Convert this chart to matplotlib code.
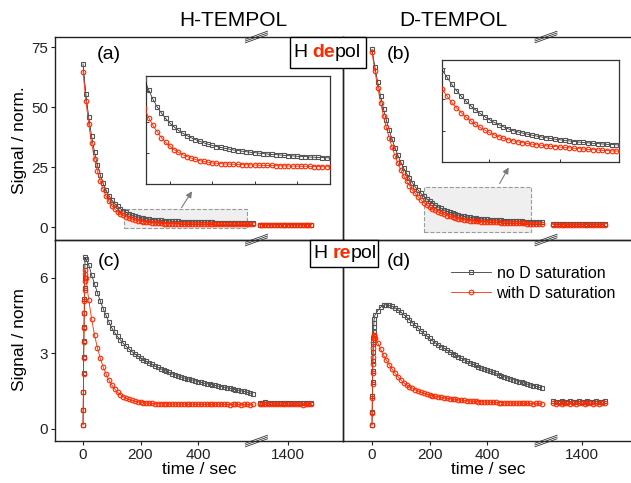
import matplotlib.pyplot as plt
from matplotlib.lines import Line2D
from matplotlib.patches import Rectangle
from matplotlib.text import Annotation

plt.rcParams['font.family'] = ['Liberation Sans', 'DejaVu Sans']

# ---- data ----
# depolarisation: time grid in s
t_dep = [0, 10, 20, 30, 40, 50, 60, 70, 80, 90, 100, 110, 120, 130, 140, 150, 160, 170, 180, 190,
         200, 210, 220, 230, 240, 250, 260, 270, 280, 290, 300, 310, 320, 330, 340, 350, 360, 370, 380, 390,
         400, 410, 420, 430, 440, 450, 460, 470, 480, 490, 500, 510, 520, 530, 540, 550, 560, 570, 580, 590]
t_tail = [1300, 1310, 1320, 1330, 1340, 1350, 1360, 1370, 1380, 1390,
          1400, 1410, 1420, 1430, 1440, 1450, 1460, 1470, 1480]
# repolarisation: dense points during the rise, then every 10 s
t_rep = [0, 0.6, 1.2, 1.8, 2.4, 3.0, 3.6, 4.2, 4.8, 5.4, 6.0, 6.6, 7.2,
         10, 20, 30, 40, 50, 60, 70, 80, 90, 100, 110, 120, 130, 140, 150, 160, 170, 180, 190,
         200, 210, 220, 230, 240, 250, 260, 270, 280, 290, 300, 310, 320, 330, 340, 350, 360, 370, 380, 390,
         400, 410, 420, 430, 440, 450, 460, 470, 480, 490, 500, 510, 520, 530, 540, 550, 560, 570, 580, 590]

# (a) H-TEMPOL, H depol
a_noD = [68.0, 55.5, 45.7, 37.8, 31.3, 26.0, 21.7, 18.2, 15.4, 13.1,
         11.3, 9.8, 8.6, 7.6, 6.8, 6.1, 5.5, 5.0, 4.6, 4.25,
         3.95, 3.7, 3.48, 3.3, 3.14, 3.0, 2.88, 2.77, 2.67, 2.58,
         2.5, 2.43, 2.37, 2.31, 2.26, 2.21, 2.17, 2.13, 2.09, 2.06,
         2.03, 2.0, 1.97, 1.94, 1.92, 1.9, 1.88, 1.86, 1.84, 1.82,
         1.8, 1.78, 1.77, 1.75, 1.74, 1.72, 1.71, 1.7, 1.69, 1.68]
a_D = [64.7, 52.5, 42.8, 34.9, 28.5, 23.3, 19.1, 15.7, 12.9, 10.7,
       8.9, 7.5, 6.4, 5.5, 4.9, 4.3, 3.8, 3.4, 3.0, 2.7,
       2.45, 2.23, 2.05, 1.9, 1.78, 1.68, 1.59, 1.52, 1.46, 1.41,
       1.36, 1.34, 1.32, 1.3, 1.29, 1.28, 1.27, 1.26, 1.25, 1.24,
       1.23, 1.22, 1.21, 1.2, 1.2, 1.19, 1.18, 1.18, 1.17, 1.16,
       1.16, 1.15, 1.15, 1.14, 1.13, 1.13, 1.12, 1.12, 1.11, 1.11]
a_noD_tail = [1.02, 1.04, 1.01, 1.03, 1.02, 1.0, 1.03, 1.02, 1.01, 1.03,
              1.02, 1.0, 1.01, 1.03, 1.02, 1.0, 1.01, 1.02, 1.01]
a_D_tail = [0.98, 0.97, 0.99, 0.98, 0.96, 0.98, 0.97, 0.99, 0.98, 0.97,
            0.96, 0.98, 0.97, 0.98, 0.99, 0.97, 0.98, 0.96, 0.98]

# (b) D-TEMPOL, H depol
b_noD = [74.0, 66.8, 60.3, 54.5, 49.2, 44.5, 40.3, 36.5, 33.0, 29.9,
         27.1, 24.6, 22.4, 20.3, 18.5, 16.8, 15.4, 14.0, 12.8, 11.7,
         10.8, 9.9, 9.1, 8.4, 7.76, 7.18, 6.67, 6.2, 5.78, 5.4,
         5.06, 4.76, 4.48, 4.23, 4.01, 3.85, 3.7, 3.56, 3.43, 3.31,
         3.2, 3.1, 3.0, 2.91, 2.83, 2.75, 2.68, 2.61, 2.55, 2.49,
         2.44, 2.39, 2.34, 2.3, 2.26, 2.22, 2.19, 2.16, 2.13, 2.1]
b_D = [72.8, 65.0, 58.1, 51.9, 46.4, 41.5, 37.1, 33.2, 29.7, 26.6,
       23.9, 21.4, 19.2, 17.3, 15.5, 14.0, 12.6, 11.3, 10.2, 9.26,
       8.39, 7.61, 6.91, 6.29, 5.74, 5.25, 4.81, 4.41, 4.06, 3.76,
       3.48, 3.23, 3.01, 2.84, 2.7, 2.58, 2.47, 2.37, 2.28, 2.2,
       2.13, 2.07, 2.01, 1.96, 1.9, 1.85, 1.8, 1.75, 1.7, 1.65,
       1.61, 1.57, 1.53, 1.49, 1.45, 1.42, 1.39, 1.36, 1.33, 1.3]
b_noD_tail = [1.1, 1.08, 1.11, 1.09, 1.1, 1.12, 1.08, 1.1, 1.09, 1.11,
              1.1, 1.08, 1.1, 1.11, 1.09, 1.1, 1.08, 1.1, 1.09]
b_D_tail = [1.02, 1.0, 1.03, 1.01, 1.02, 1.0, 1.01, 1.03, 1.02, 1.0,
            1.01, 1.02, 1.0, 1.03, 1.01, 1.02, 1.0, 1.01, 1.02]

# (c) H-TEMPOL, H repol
c_noD = [0.15, 0.75, 1.45, 2.2, 2.85, 3.5, 4.05, 4.6, 5.15, 5.6, 6.0, 6.45, 6.8,
         6.75, 6.5, 6.1, 5.75, 5.4, 5.07, 4.77, 4.5, 4.24, 4.0,
         3.82, 3.66, 3.52, 3.39, 3.27, 3.16, 3.06, 2.97, 2.89, 2.81,
         2.74, 2.67, 2.61, 2.55, 2.49, 2.43, 2.38, 2.33, 2.28, 2.23,
         2.18, 2.14, 2.1, 2.06, 2.02, 1.99, 1.96, 1.93, 1.9, 1.87,
         1.84, 1.81, 1.79, 1.76, 1.74, 1.72, 1.69, 1.67, 1.65, 1.62,
         1.6, 1.58, 1.55, 1.53, 1.5, 1.48, 1.45, 1.42, 1.38]
c_D = [0.15, 0.73, 1.44, 2.16, 2.82, 3.45, 4.0, 4.58, 5.08, 5.5, 5.87, 6.15, 6.3,
       6.0, 5.1, 4.35, 3.72, 3.21, 2.8, 2.45, 2.17, 1.93, 1.74,
       1.58, 1.45, 1.35, 1.27, 1.21, 1.16, 1.12, 1.09, 1.07, 1.05,
       1.03, 1.02, 1.01, 1.0, 0.99, 0.99, 0.98, 0.99, 0.98, 0.98,
       0.97, 0.98, 0.97, 0.97, 0.98, 0.97, 0.96, 0.97, 0.97, 0.96,
       0.97, 0.96, 0.97, 0.96, 0.96, 0.97, 0.96, 0.97, 0.96, 0.96,
       0.95, 0.96, 0.97, 0.96, 0.95, 0.96, 0.96, 0.95, 0.96]
c_noD_tail = [1.03, 1.02, 1.04, 1.01, 1.03, 1.02, 1.0, 1.03, 1.02, 1.01,
              1.03, 1.02, 1.0, 1.01, 1.02, 1.0, 1.01, 1.02, 1.0]
c_D_tail = [0.97, 0.98, 0.96, 0.97, 0.98, 0.96, 0.97, 0.97, 0.96, 0.98,
            0.97, 0.96, 0.97, 0.98, 0.96, 0.95, 0.97, 0.96, 0.96]

# (d) D-TEMPOL, H repol
d_noD = [0.15, 0.65, 1.3, 1.85, 2.3, 2.7, 3.05, 3.35, 3.6, 3.85, 4.05, 4.2, 4.34,
         4.5, 4.68, 4.82, 4.9, 4.92, 4.9, 4.86, 4.8, 4.72, 4.63,
         4.53, 4.43, 4.32, 4.21, 4.1, 3.99, 3.88, 3.78, 3.68, 3.58,
         3.49, 3.41, 3.33, 3.26, 3.2, 3.12, 3.05, 2.98, 2.92, 2.86,
         2.8, 2.74, 2.68, 2.62, 2.57, 2.51, 2.46, 2.41, 2.37, 2.33,
         2.28, 2.23, 2.19, 2.15, 2.1, 2.06, 2.02, 1.98, 1.95, 1.91,
         1.87, 1.84, 1.81, 1.77, 1.74, 1.71, 1.68, 1.65, 1.62]
d_D = [0.15, 0.61, 1.23, 1.76, 2.2, 2.55, 2.86, 3.19, 3.45, 3.6, 3.68, 3.72, 3.72,
       3.6, 3.41, 3.15, 2.92, 2.72, 2.53, 2.36, 2.2, 2.07, 1.93,
       1.83, 1.74, 1.67, 1.61, 1.55, 1.5, 1.45, 1.41, 1.37, 1.34,
       1.31, 1.28, 1.26, 1.24, 1.22, 1.2, 1.19, 1.17, 1.16, 1.14,
       1.13, 1.12, 1.11, 1.1, 1.09, 1.08, 1.07, 1.07, 1.06, 1.05,
       1.05, 1.04, 1.04, 1.03, 1.03, 1.02, 1.02, 1.02, 1.01, 1.01,
       1.01, 1.0, 1.01, 1.0, 1.0, 0.99, 1.0, 1.0, 0.99]
d_noD_tail = [1.08, 1.06, 1.07, 1.09, 1.06, 1.07, 1.08, 1.06, 1.07, 1.08,
              1.06, 1.07, 1.09, 1.07, 1.06, 1.08, 1.07, 1.06, 1.08]
d_D_tail = [1.0, 0.99, 1.01, 0.98, 1.0, 1.01, 0.99, 1.0, 0.98, 1.01,
            1.0, 0.99, 1.0, 1.01, 0.98, 1.0, 0.99, 1.01, 1.0]

x_ticks_left = [0, 200, 400]
x_ticks_right = [1400]
labels = ['no D saturation', 'with D saturation']

# ---- layout (pixels of the 631x483 picture) ----
W, H = 631, 483
fig = plt.figure(figsize=(W / 100, H / 100), dpi=100)

def pax(x0, y0, x1, y1):
    return fig.add_axes([x0 / W, 1 - y1 / H, (x1 - x0) / W, (y1 - y0) / H])

SCALE = 0.2875  # px per second
cols = [dict(le=55, zero=83, brk=256.5, p1400=288.3, re=343),
        dict(le=343, zero=372, brk=546, p1400=581.7, re=632)]
rows = [(37, 240), (240, 441)]

GREY = '#555555'
RED = '#ff2a00'
blk_kw = dict(color='#111111', lw=0.5, marker='s', ms=2.9, mfc='none', mec=GREY, mew=0.8)
red_kw = dict(color=RED, lw=0.6, marker='o', ms=3.3, mfc='none', mec=RED, mew=0.8)
SPINE = '#222222'


def style(ax):
    for s in ax.spines.values():
        s.set_color(SPINE)
        s.set_linewidth(1.0)
    ax.tick_params(direction='out', length=3, width=0.8, pad=2, labelsize=11, colors=SPINE)
    ax.set_facecolor('none')


def panel(r, c, t, blk, red, blk_tail, red_tail, ylim, yticks):
    y0, y1 = rows[r]
    g = cols[c]
    axL = pax(g['le'], y0, g['brk'], y1)
    axR = pax(g['brk'], y0, g['re'], y1)
    for ax in (axL, axR):
        style(ax)
        ax.set_ylim(*ylim)
    axL.set_xlim((g['le'] - g['zero']) / SCALE, (g['brk'] - g['zero']) / SCALE)
    axR.set_xlim(1400 + (g['brk'] - g['p1400']) / SCALE, 1400 + (g['re'] - g['p1400']) / SCALE)
    axL.plot(t, blk, zorder=3, **blk_kw)
    axL.plot(t, red, zorder=4, **red_kw)
    axR.plot(t_tail, blk_tail, zorder=3, **blk_kw)
    axR.plot(t_tail, red_tail, zorder=4, **red_kw)
    axL.spines['right'].set_visible(False)
    axR.spines['left'].set_visible(False)
    axR.set_yticks([])
    if c == 0:
        axL.set_yticks(yticks)
    else:
        axL.set_yticks([])
    if r == 1:
        axL.set_xticks(x_ticks_left)
        axR.set_xticks(x_ticks_right)
    else:
        axL.set_xticks([])
        axR.set_xticks([])
    return axL, axR


axa, _ = panel(0, 0, t_dep, a_noD, a_D, a_noD_tail, a_D_tail, (-5.4, 79.2), [0, 25, 50, 75])
axb, _ = panel(0, 1, t_dep, b_noD, b_D, b_noD_tail, b_D_tail, (-5.4, 79.2), [0, 25, 50, 75])
axc, _ = panel(1, 0, t_rep, c_noD, c_D, c_noD_tail, c_D_tail, (-0.49, 7.49), [0, 3, 6])
axd, _ = panel(1, 1, t_rep, d_noD, d_D, d_noD_tail, d_D_tail, (-0.49, 7.49), [0, 3, 6])

# zoom boxes
axa.add_patch(Rectangle((143.7, -0.3), 425.7, 7.7, fc='#efefef', ec='#9a9a9a', ls='--', lw=0.8, zorder=1))
axb.add_patch(Rectangle((182, -2.1), 372, 18.8, fc='#efefef', ec='#9a9a9a', ls='--', lw=0.8, zorder=1))


def inset(box, t, blk, red, xlim, ylim, xt, yt):
    ax = pax(*box)
    ax.set_facecolor('white')
    ax.plot(t, blk, zorder=3, **blk_kw)
    ax.plot(t, red, zorder=4, **red_kw)
    ax.set_xlim(*xlim)
    ax.set_ylim(*ylim)
    ax.set_xticks(xt)
    ax.set_yticks(yt)
    ax.tick_params(direction='in', length=2.5, width=0.7, labelbottom=False, labelleft=False, colors='#333')
    for s in ax.spines.values():
        s.set_color('#333333')
        s.set_linewidth(0.9)


inset((145.7, 76, 330, 184), t_dep, a_noD, a_D, (143, 578), (0, 7), [200, 300, 400, 500], [0, 2, 4, 6])
inset((442.3, 60, 618.7, 162), t_dep, b_noD, b_D, (190, 565), (0, 13), [290, 440], [0, 4, 8, 12])

# arrows from boxes to insets
for (xa, ya), (xb, yb) in [((180, 210), (193.5, 189)), ((498.3, 186), (510, 165))]:
    fig.add_artist(Annotation('', xy=(xb, H - yb), xytext=(xa, H - ya), xycoords='figure pixels',
                              arrowprops=dict(arrowstyle='-|>', color='#7a7a7a', lw=0.8, mutation_scale=9)))

# axis break marks
for g in cols:
    for yb in (37, 240, 441):
        for off in (-1.8, 0, 1.8):
            xs = [(g['brk'] - 11) / W, (g['brk'] + 11) / W]
            ys = [1 - (yb + 4 + off) / H, 1 - (yb - 4 + off) / H]
            fig.add_artist(Line2D(xs, ys, transform=fig.transFigure, color='#333333', lw=0.6, zorder=4))

# titles and labels
fig.text(233 / W, 1 - 21 / H, 'H-TEMPOL', ha='center', va='center', fontsize=15)
fig.text(453 / W, 1 - 21 / H, 'D-TEMPOL', ha='center', va='center', fontsize=15)
fig.text(20 / W, 1 - 140 / H, 'Signal / norm.', rotation=90, ha='center', va='center', fontsize=12.5)
fig.text(20 / W, 1 - 340 / H, 'Signal / norm', rotation=90, ha='center', va='center', fontsize=12.5)
fig.text(199 / W, 1 - 470 / H, 'time / sec', ha='center', va='center', fontsize=12.5)
fig.text(488 / W, 1 - 470 / H, 'time / sec', ha='center', va='center', fontsize=12.5)
for lab, x, y in [('(a)', 109, 54.5), ('(b)', 399, 54.5), ('(c)', 109, 261), ('(d)', 399, 261)]:
    fig.text(x / W, 1 - y / H, lab, ha='center', va='center', fontsize=14)


def tag_box(x0, y0, x1, y1, red_part):
    fig.add_artist(Rectangle((x0 / W, 1 - y1 / H), (x1 - x0) / W, (y1 - y0) / H,
                             transform=fig.transFigure, fc='white', ec='black', lw=1.0, zorder=5))
    t1 = fig.text((x0 + 3) / W, 1 - (y0 + y1) / 2 / H, 'H', ha='left', va='center', fontsize=14, zorder=6)
    t2 = Annotation(red_part, xy=(1, 0), xycoords=t1, xytext=(3.9, 0), textcoords='offset points',
                    ha='left', va='bottom', fontsize=14, color=RED, fontweight='bold', zorder=6)
    fig.add_artist(t2)
    t3 = Annotation('pol', xy=(1, 0), xycoords=t2, ha='left', va='bottom', fontsize=14, zorder=6)
    fig.add_artist(t3)


tag_box(290, 37, 366, 68, 'de')
tag_box(310, 240, 378, 267, 're')

# legend in (d)
handles = [Line2D([], [], **blk_kw), Line2D([], [], **red_kw)]
fig.legend(handles, labels, loc='upper left', bbox_to_anchor=(451 / W, 1 - 266 / H), frameon=False,
           fontsize=11.5, handlelength=2.5, handletextpad=0.35, labelspacing=0.3, numpoints=1,
           borderpad=0, borderaxespad=0)

fig.savefig('out.png', dpi=100)
